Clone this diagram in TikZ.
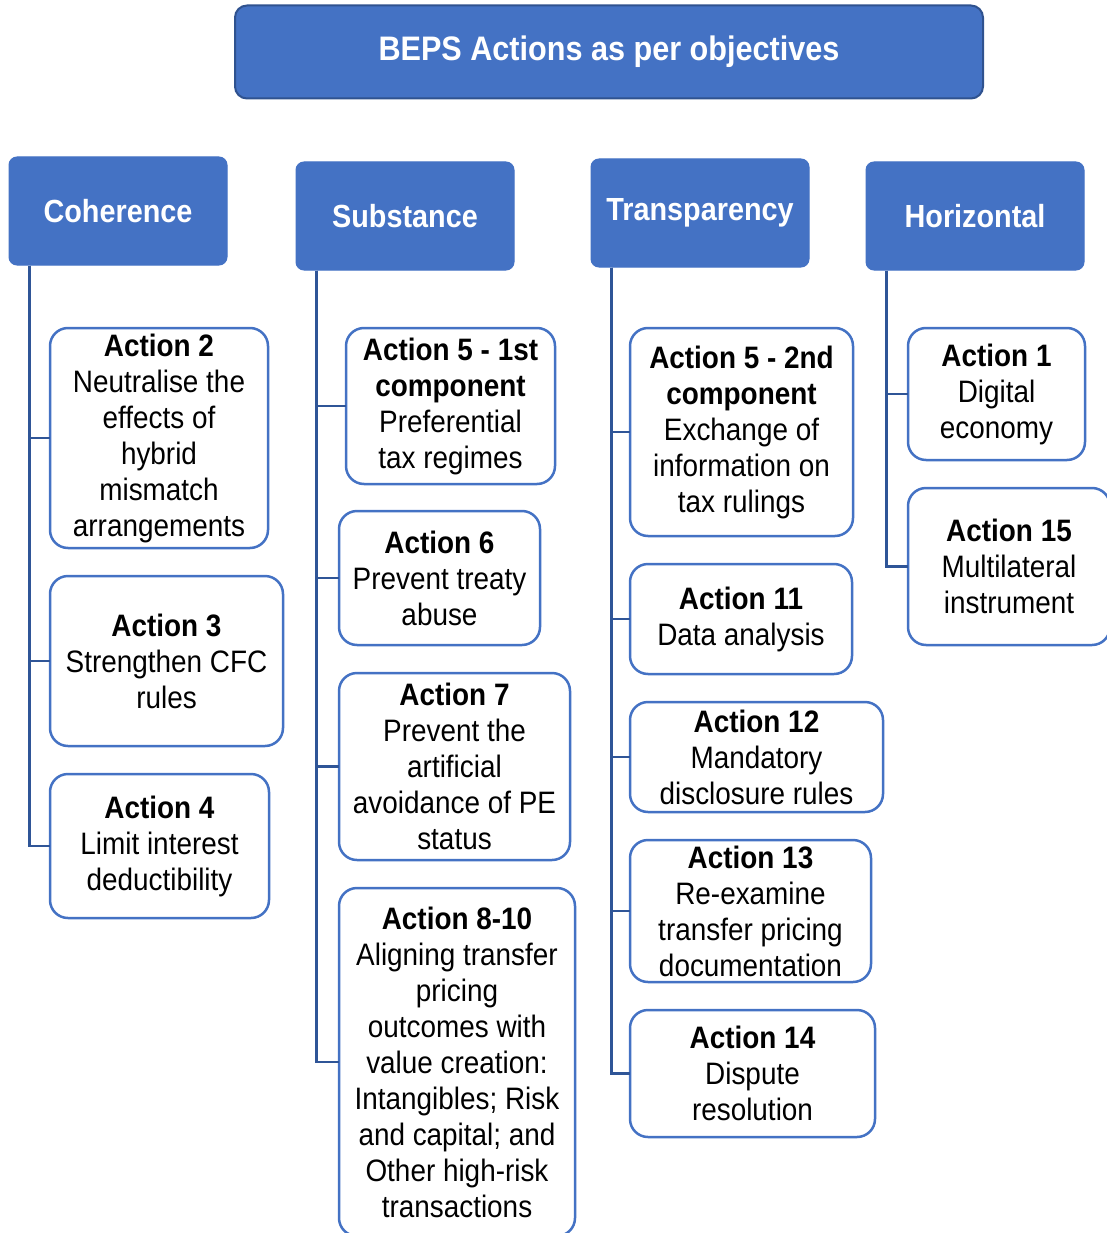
\documentclass[tikz,border=0pt]{standalone}
\usepackage{fontspec}
\setmainfont{Liberation Sans}[FakeStretch=0.9]
\usetikzlibrary{positioning}
\definecolor{beps}{HTML}{4472C4}
\definecolor{bepsdark}{HTML}{2F528F}
\definecolor{trunk}{HTML}{2F5597}

\begin{document}
\begin{tikzpicture}[x=1pt, y=-1pt, font=\fontsize{31}{36}\selectfont,
  title/.style={draw=bepsdark, line width=2pt, fill=beps, rounded corners=12pt, text=white, font=\fontsize{34}{38}\selectfont\bfseries, minimum width=748pt, minimum height=93pt},
  head/.style={draw=beps, line width=1pt, fill=beps, rounded corners=8pt, text=white, font=\fontsize{32}{38}\selectfont\bfseries, minimum width=218pt, minimum height=108pt},
  act/.style={draw=beps, line width=2.5pt, fill=white, rounded corners=18pt, align=center, inner sep=2pt, outer sep=0pt},
  link/.style={draw=trunk, line width=2.5pt}]
\useasboundingbox (0,0) rectangle (1106,1233);
\node[title] (beps) at (609,52) {BEPS Actions as per objectives};
% objective headers
\node[head] (coh) at (118,211) {Coherence};
\node[head] (sub) at (405,216) {Substance};
\node[head] (tra) at (700,213) {Transparency};
\node[head] (hor) at (975,216) {Horizontal};
% coherence
\node[act, minimum width=218pt, minimum height=220pt] (a2) at (159,438) {\textbf{Action 2}\\Neutralise the\\effects of\\hybrid\\mismatch\\arrangements};
\node[act, minimum width=233pt, minimum height=170pt, below right=28pt and 0pt of a2.south west] (a3) {\textbf{Action 3}\\Strengthen CFC\\rules};
\node[act, minimum width=219pt, minimum height=144pt, below right=28pt and 0pt of a3.south west] (a4) {\textbf{Action 4}\\Limit interest\\deductibility};
% substance
\node[act, minimum width=209pt, minimum height=156pt] (a5a) at (450.5,406) {\textbf{Action 5 - 1st}\\\textbf{component}\\Preferential\\tax regimes};
\node[act, minimum width=201pt, minimum height=134pt, below right=27pt and -7pt of a5a.south west] (a6) {\textbf{Action 6}\\Prevent treaty\\abuse};
\node[act, minimum width=231pt, minimum height=187pt, below right=28pt and 0pt of a6.south west] (a7) {\textbf{Action 7}\\Prevent the\\artificial\\avoidance of PE\\status};
\node[act, minimum width=236pt, minimum height=348pt, below right=28pt and 0pt of a7.south west] (a8) {\textbf{Action 8-10}\\Aligning transfer\\pricing\\outcomes with\\value creation:\\Intangibles; Risk\\and capital; and\\Other high-risk\\transactions};
% transparency
\node[act, minimum width=223pt, minimum height=208pt] (a5b) at (741.5,432) {\textbf{Action 5 - 2nd}\\\textbf{component}\\Exchange of\\information on\\tax rulings};
\node[act, minimum width=222pt, minimum height=110pt, below right=28pt and 0pt of a5b.south west] (a11) {\textbf{Action 11}\\Data analysis};
\node[act, minimum width=253pt, minimum height=110pt, below right=28pt and 0pt of a11.south west] (a12) {\textbf{Action 12}\\Mandatory\\disclosure rules};
\node[act, minimum width=241pt, minimum height=142pt, below right=28pt and 0pt of a12.south west] (a13) {\textbf{Action 13}\\Re-examine\\transfer pricing\\documentation};
\node[act, minimum width=245pt, minimum height=127pt, below right=28pt and 0pt of a13.south west] (a14) {\textbf{Action 14}\\Dispute\\resolution};
% horizontal
\node[act, minimum width=177pt, minimum height=132pt] (a1) at (996.5,394) {\textbf{Action 1}\\Digital\\economy};
\node[act, minimum width=202pt, minimum height=157pt, below right=28pt and 0pt of a1.south west] (a15) {\textbf{Action 15}\\Multilateral\\instrument};
% trunks
\foreach \c in {a2,a3,a4} \draw[link] ([xshift=21pt]coh.south west) |- (\c.west);
\foreach \c in {a5a,a6,a7,a8} \draw[link] ([xshift=21pt]sub.south west) |- (\c.west);
\foreach \c in {a5b,a11,a12,a13,a14} \draw[link] ([xshift=21pt]tra.south west) |- (\c.west);
\foreach \c in {a1,a15} \draw[link] ([xshift=21pt]hor.south west) |- (\c.west);
\end{tikzpicture}
\end{document}
